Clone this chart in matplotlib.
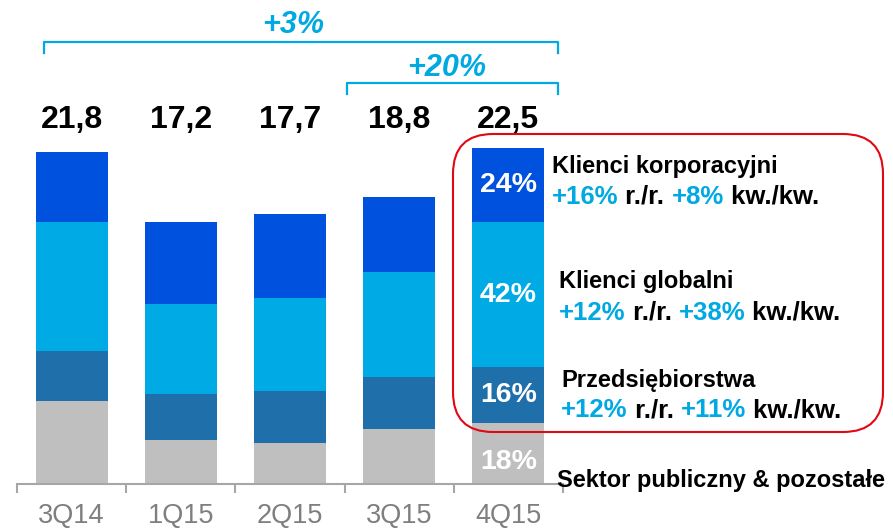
import matplotlib
matplotlib.use('Agg')
import matplotlib.pyplot as plt
import matplotlib.transforms as mtransforms
from matplotlib.patches import FancyBboxPatch
import numpy as np

plt.rcParams['font.family'] = ['Liberation Sans', 'DejaVu Sans']

# ---- data ----
categories = ['3Q14', '1Q15', '2Q15', '3Q15', '4Q15']
totals = ['21,8', '17,2', '17,7', '18,8', '22,5']
sektor = [5.44, 2.87, 2.67, 3.63, 3.98]      # Sektor publiczny & pozostałe
przeds = [3.30, 3.02, 3.41, 3.37, 3.67]      # Przedsiębiorstwa
globalni = [8.44, 5.90, 6.10, 6.89, 9.51]    # Klienci globalni
korpor = [4.61, 5.42, 5.55, 4.92, 4.85]      # Klienci korporacyjni
shares_last = ['18%', '16%', '42%', '24%']   # bottom -> top, 4Q15
growth_total = '+3%'
growth_qq = '+20%'

C_DARK = '#0052DE'
C_LIGHT = '#00AAE4'
C_MID = '#1F6FAA'
C_GRAY = '#BFBFBF'
C_TXT = '#00A9E2'
C_AXIS = '#A6A6A6'

W, H = 893, 528
fig = plt.figure(figsize=(W / 100, H / 100), dpi=100)
ax = fig.add_axes([17 / W, (H - 484) / H, 546 / W, 484 / H])
ax.set_xlim(-0.5, 4.5)
ax.set_ylim(0, 484 / 15.25)

x = np.arange(len(categories))
series = [(sektor, C_GRAY), (przeds, C_MID), (globalni, C_LIGHT), (korpor, C_DARK)]
bottom = np.zeros(len(categories))
mids_last = []
for vals, col in series:
    vals = np.array(vals)
    ax.bar(x, vals, width=0.66, bottom=bottom, color=col, linewidth=0)
    mids_last.append(bottom[-1] + vals[-1] / 2)
    bottom = bottom + vals

for s in ['top', 'right', 'left']:
    ax.spines[s].set_visible(False)
ax.spines['bottom'].set_color(C_AXIS)
ax.spines['bottom'].set_linewidth(1.5)
ax.set_yticks([])
ax.set_xticks(np.arange(-0.5, 5, 1))
ax.set_xticklabels([])
ax.tick_params(axis='x', length=6.5, width=1.5, color=C_AXIS, direction='out')
ax.patch.set_alpha(0)

# percent labels in last bar
offsets = [-0.55, 0, 0, 0]
for m, lab, off in zip(mids_last, shares_last, offsets):
    ax.text(4, m + off, lab, ha='center', va='center', color='white',
            fontsize=20.5, fontweight='bold')

# overlay in pixel coordinates
ov = fig.add_axes([0, 0, 1, 1])
ov.set_xlim(0, W)
ov.set_ylim(H, 0)
ov.axis('off')
ov.patch.set_alpha(0)
trans = mtransforms.blended_transform_factory(ax.transData, ov.transData)

for i, c in enumerate(categories):
    ov.text(i, 523, c, transform=trans, ha='center', va='baseline',
            fontsize=19.5, color='#7F7F7F')
for i, t in enumerate(totals):
    ov.text(i, 128, t, transform=trans, ha='center', va='baseline',
            fontsize=23, fontweight='bold', color='black')

# brackets
ov.plot([44, 44, 558, 558], [53, 42, 42, 53], color=C_TXT, lw=1.6)
ov.text(293, 33, growth_total, ha='center', va='baseline', fontsize=22,
        fontweight='bold', style='italic', color=C_TXT)
ov.plot([347, 347, 558, 558], [94, 83, 83, 94], color=C_TXT, lw=1.6)
ov.text(447, 76, growth_qq, ha='center', va='baseline', fontsize=22,
        fontweight='bold', style='italic', color=C_TXT)

# red rounded box
box = FancyBboxPatch((453, 134), 430, 298, boxstyle='round,pad=0,rounding_size=40',
                     fill=False, edgecolor='#E30613', linewidth=1.5)
ov.add_patch(box)


def rich_line(x0, y0, parts, fs):
    t = ov.text(x0, y0, parts[0][0], color=parts[0][1], fontsize=fs,
                fontweight='bold', va='baseline', ha='left')
    for s, c in parts[1:]:
        t = ov.annotate(s, xy=(1, 0), xycoords=t, va='bottom', ha='left',
                        color=c, fontsize=fs, fontweight='bold')


ov.text(552, 173, 'Klienci korporacyjni', fontsize=17, fontweight='bold', va='baseline')
rich_line(552, 204, [('+16%', C_TXT), (' r./r. ', 'black'), ('+8%', C_TXT), (' kw./kw.', 'black')], 18.5)
ov.text(559, 288, 'Klienci globalni', fontsize=17, fontweight='bold', va='baseline')
rich_line(559, 320, [('+12%', C_TXT), (' r./r. ', 'black'), ('+38%', C_TXT), (' kw./kw.', 'black')], 18.5)
ov.text(561, 387, 'Przedsiębiorstwa', fontsize=17, fontweight='bold', va='baseline')
rich_line(561, 417, [('+12%', C_TXT), (' r./r. ', 'black'), ('+11%', C_TXT), (' kw./kw.', 'black')], 18.5)
ov.text(557, 487, 'Sektor publiczny & pozostałe', fontsize=17, fontweight='bold', va='baseline')

fig.savefig('out.png', dpi=100)
